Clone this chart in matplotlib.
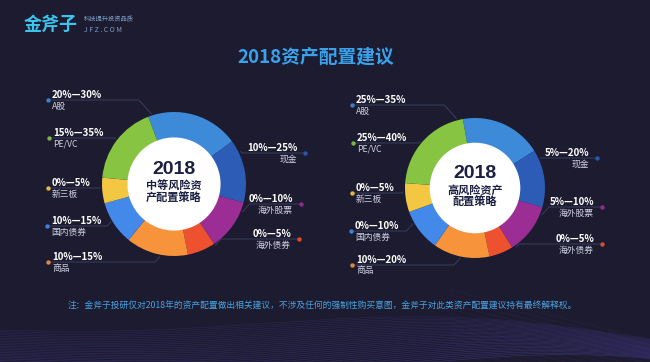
import matplotlib
matplotlib.use("Agg")
import matplotlib.pyplot as plt
from matplotlib.patches import Circle
import numpy as np

plt.rcParams['font.family'] = ['Noto Sans CJK SC', 'DejaVu Sans']

# data
categories = ["A股", "现金", "海外股票", "海外债券", "商品", "国内债券", "新三板", "PE/VC"]
mid_ranges = ["20%—30%", "10%—25%", "0%—10%", "0%—5%", "10%—15%", "10%—15%", "0%—5%", "15%—35%"]
high_ranges = ["25%—35%", "5%—20%", "5%—10%", "0%—5%", "10%—20%", "0%—10%", "0%—5%", "25%—40%"]
# segment sizes (degrees of arc)
mid_share = [76, 52, 42, 23, 51, 36, 21, 65]
high_share = [68, 48, 42, 20, 47, 35, 24, 76]
mid_title = ["2018", "中等风险资", "产配置策略"]
high_title = ["2018", "高风险资产", "配置策略"]

colors = ["#3c8ad8", "#2d5cb6", "#9b2d95", "#ee5130", "#f7933b", "#4289e9", "#f4c743", "#86c441"]
bg = "#1c1b2f"
W, H = 650, 362

fig = plt.figure(figsize=(6.5, 3.62), dpi=100, facecolor=bg)
ax = fig.add_axes([0, 0, 1, 1])
ax.set_facecolor(bg)

def Y(y):
    return H - y

# faint wave lines at the bottom
xs = np.linspace(0, W, 300)
for i in range(28):
    yy = 330 + i * 1.6 - 22 * np.sin((xs - 150 - i * 6) / 140.0) * (xs / W)
    ax.plot(xs, Y(yy), color="#4a3f9a", lw=0.5, alpha=0.25 + 0.01 * i, zorder=0)
for i in range(14):
    xx = np.linspace(450, 650, 50)
    ax.plot(xx, Y(290 + i * 5 + (xx - 450) * 0.25 - i * 0.2), color="#8a4a8a", lw=0.4, alpha=0.15, zorder=0)

# label layout: order in categories list
left_side = [True, False, False, False, True, True, True, True]
layouts = {
    "mid": dict(center=(174, 184), r=72, start=111,
                dots=[(48, 100), (305, 153), (301, 204), (299, 239), (48, 262), (47, 226), (48, 188), (49, 138)],
                ends=[108, 26, -22, -56, 259, 211, 183, 142]),
    "high": dict(center=(475, 188), r=70, start=100,
                 dots=[(352, 105), (597, 158), (602, 207), (602, 244), (352, 265), (351, 231), (352, 193), (353, 143)],
                 ends=[105, 25, -22, -55, 258, 210, 183, 140]),
}

def draw_donut(share, ranges, title, lay):
    cx, cy = lay["center"]
    r = lay["r"]
    ax.pie(share, colors=colors, startangle=lay["start"], counterclock=False,
           radius=r, center=(cx, Y(cy)), frame=True,
           wedgeprops=dict(width=r * 0.36, edgecolor="none"))
    ax.add_patch(Circle((cx, Y(cy)), r * 0.64 + 0.5, facecolor="white", edgecolor="none", zorder=3))
    ax.text(cx, Y(cy - 14), title[0], ha="center", va="center", fontsize=14,
            fontweight="bold", color="#1b2042", zorder=4,
            family=["Liberation Sans", "DejaVu Sans"])
    ax.text(cx, Y(cy + 2), title[1], ha="center", va="center", fontsize=8,
            fontweight="bold", color="#1b2042", zorder=4)
    ax.text(cx, Y(cy + 14), title[2], ha="center", va="center", fontsize=8,
            fontweight="bold", color="#1b2042", zorder=4)
    for k, cat in enumerate(categories):
        dx, dy = lay["dots"][k]
        a = np.radians(lay["ends"][k])
        ex, ey = cx + (r + 2) * np.cos(a), cy - (r + 2) * np.sin(a)
        if left_side[k]:
            elx = ex - abs(dy - ey) * 0.9
            elx = max(elx, dx + 20)
        else:
            elx = ex + abs(dy - ey) * 0.9
            elx = min(elx, dx - 20)
        ax.plot([dx, elx, ex], [Y(dy), Y(dy), Y(ey)], color="#3e4468", lw=0.6, zorder=1)
        ax.plot(dx, Y(dy), "o", ms=2.2, color=colors[k], alpha=0.85, zorder=2)
        if left_side[k]:
            tx, ha = dx + 4, "left"
        else:
            tx, ha = dx - 8, "right"
        ax.text(tx, Y(dy - 5), ranges[k], ha=ha, va="center", fontsize=7,
                fontweight="bold", color="white", zorder=4)
        ax.text(tx, Y(dy + 6), cat, ha=ha, va="center", fontsize=6.3,
                color="#cfd3e2", zorder=4)

draw_donut(mid_share, mid_ranges, mid_title, layouts["mid"])
draw_donut(high_share, high_ranges, high_title, layouts["high"])

# title
ax.text(316, Y(57), "2018资产配置建议", ha="center", va="center", fontsize=13.5,
        fontweight="bold", color="#3aa2ea")

# logo
ax.text(24, Y(24), "金斧子", ha="left", va="center", fontsize=13, fontweight="bold",
        color="#3cc4ee", style="italic")
ax.text(84, Y(19), "科技提升投资品质", ha="left", va="center", fontsize=4.5, color="#7fa0c8")
ax.text(84, Y(30), "J F Z . C O M", ha="left", va="center", fontsize=5, color="#7fa0c8")

# footnote
ax.text(322, Y(306), "注：金斧子投研仅对2018年的资产配置做出相关建议，不涉及任何的强制性购买意图，金斧子对此类资产配置建议持有最终解释权。",
        ha="center", va="center", fontsize=6.3, color="#4aa3e2")

ax.set_xlim(0, W)
ax.set_ylim(0, H)
ax.set_aspect("auto")
ax.axis("off")

fig.savefig("out.png", dpi=100, facecolor=bg)
